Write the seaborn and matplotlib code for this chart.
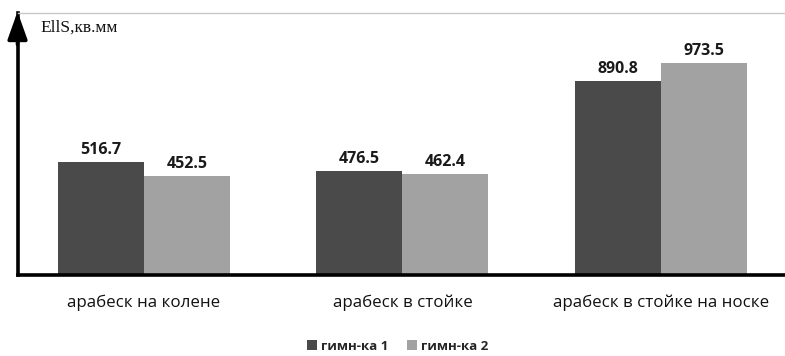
import matplotlib
matplotlib.use("Agg")
import matplotlib.pyplot as plt
import seaborn as sns
import pandas as pd

# Data
categories = ["арабеск на колене", "арабеск в стойке", "арабеск в стойке на носке"]
series_names = ["гимн-ка 1", "гимн-ка 2"]
gymnast_1 = [516.7, 476.5, 890.8]
gymnast_2 = [452.5, 462.4, 973.5]
y_label = "EllS,кв.мм"

df = pd.DataFrame({
    "category": categories * 2,
    "series": [series_names[0]] * 3 + [series_names[1]] * 3,
    "value": gymnast_1 + gymnast_2,
})

sns.set_theme(style="white")
plt.rcParams["font.family"] = ["Open Sans", "DejaVu Sans"]

fig = plt.figure(figsize=(7.85, 3.56), dpi=100)
ax = fig.add_axes([0.0223, 0.2275, 0.9777, 0.736])

palette = {series_names[0]: "#4a4a4a", series_names[1]: "#a2a2a2"}
sns.barplot(data=df, x="category", y="value", hue="series", order=categories,
            hue_order=series_names, palette=palette, width=0.665, gap=0,
            saturation=1, linewidth=0, legend=True, ax=ax)

for cont in ax.containers:
    ax.bar_label(cont, fmt="%.1f", padding=3, fontsize=11.5, fontweight="bold",
                 color="#1a1a1a")

ax.set_ylim(0, 1203)
ax.set_xlim(-0.489, 2.48)
ax.set_yticks([])
ax.set_xlabel("")
ax.set_ylabel("")
ax.tick_params(axis="x", length=0, pad=14, labelsize=12.2, labelcolor="#111111")

ax.spines["right"].set_visible(False)
ax.spines["top"].set_color("#c8c8c8")
ax.spines["top"].set_linewidth(1.0)
ax.spines["left"].set_color("black")
ax.spines["left"].set_linewidth(2.6)
ax.spines["bottom"].set_color("black")
ax.spines["bottom"].set_linewidth(2.6)

# Arrow head on the value axis
ax.annotate("", xy=(0.0, 1.005), xytext=(0.0, 0.88), xycoords="axes fraction",
            arrowprops=dict(arrowstyle="-|>,head_length=1.4,head_width=0.5",
                            color="black", lw=2.6, shrinkA=0, shrinkB=0),
            annotation_clip=False)

ax.text(0.03, 0.975, y_label, transform=ax.transAxes, ha="left", va="top",
        fontsize=12.5, family=["Liberation Serif", "DejaVu Serif"], color="#111111")

leg = ax.legend(loc="center", bbox_to_anchor=(0.495, -0.272), ncol=2,
                frameon=False, handlelength=0.75, handleheight=0.75,
                handletextpad=0.3, columnspacing=1.4, borderpad=0.2,
                prop={"family": ["Open Sans", "DejaVu Sans"], "size": 9.5,
                      "weight": "bold"})

fig.savefig("out.png", dpi=100)
